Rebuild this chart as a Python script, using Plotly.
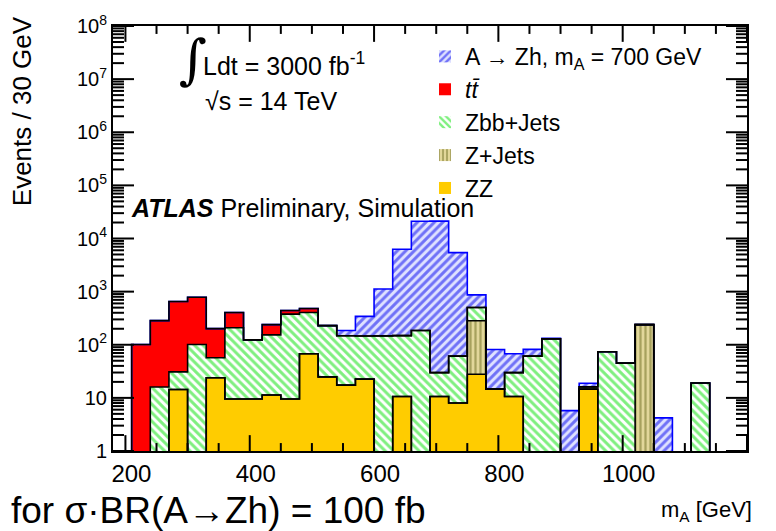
import numpy as np
import plotly.graph_objects as go

# ---------------- data ----------------
# 34 bins of 30 GeV from 180 to 1200 GeV (index 0 = 180-210 GeV)
bin_edges = [180, 210, 240, 270, 300, 330, 360, 390, 420, 450, 480, 510, 540, 570,
             600, 630, 660, 690, 720, 750, 780, 810, 840, 870, 900, 930, 960, 990,
             1020, 1050, 1080, 1110, 1140, 1170, 1200]

zz = [0, 0, 0, 14.4, 0, 24, 9.5, 9.5, 11.3, 9.5, 67.6, 24.8, 17.4, 22.5, 0, 10.6, 0,
      10.6, 8.0, 27.9, 14.6, 10.6, 0, 0, 0, 14.6, 0, 0, 0, 0, 0, 0, 0, 0]
zjets = [0, 0, 0, 0, 0, 0, 0, 0, 0, 0, 0, 0, 0, 0, 0, 0, 0, 0, 0, 256, 0, 0, 0, 0,
         0, 0, 0, 0, 239, 0, 0, 0, 0, 0]
zbb = [0, 0, 16, 16.4, 101, 33, 200, 114, 142, 368, 338, 204, 130, 124, 147, 138, 185,
       19.3, 53, 220, 0, 19.3, 61, 129, 0, 1.5, 74, 45, 0, 0, 0, 19, 0, 0]
ttbar = [0, 101, 268, 621, 684, 144, 196, 0, 86, 65, 76, 0, 0, 0, 0, 0, 0, 0, 0, 0, 0,
         0, 0, 0, 0, 0, 0, 0, 0, 0, 0, 0, 0, 0]
signal = [0, 0, 0, 0, 0, 0, 0, 0, 0, 0, 0, 0, 38, 195, 977, 6140, 21000, 21170, 5370,
          365, 67, 38, 21, 3, 5.75, 2.8, 0, 0, 0, 4.2, 0, 0, 0, 0]

series_names = ["ZZ", "Z+Jets", "Zbb+Jets", "<i>tt\u0304</i>",
                "A \u2192 Zh, m<sub>A</sub> = 700 GeV"]

x_tickvals = [200, 400, 600, 800, 1000, 1200]
x_minor_step = 50
y_tickvals = [1, 10, 1e2, 1e3, 1e4, 1e5, 1e6, 1e7, 1e8]
y_ticktext = ["1", "10", "10<sup>2</sup>", "10<sup>3</sup>", "10<sup>4</sup>",
              "10<sup>5</sup>", "10<sup>6</sup>", "10<sup>7</sup>", "10<sup>8</sup>"]

# ---------------- figure ----------------
W, H = 776, 531
ML, MR, MT, MB = 113, 29, 22, 80
FONT = "Liberation Sans, Arial, sans-serif"
X_RANGE = [180, 1200]
Y_RANGE = [0, 8]  # log10

edges = np.array(bin_edges, dtype=float)
centers = 0.5 * (edges[:-1] + edges[1:])
widths = np.diff(edges)

styles = [
    dict(color="#ffcc00", pattern=dict(shape="")),
    dict(color="#e2d79a", pattern=dict(shape="|", fgcolor="#6b6b20", bgcolor="#e2d79a",
                                       size=5, solidity=0.45)),
    dict(color="#ffffff", pattern=dict(shape="\\", fgcolor="#00e000", bgcolor="#ffffff",
                                       size=6, solidity=0.5)),
    dict(color="#ff0000", pattern=dict(shape="")),
    dict(color="#dfe2ff", pattern=dict(shape="/", fgcolor="#0000f0", bgcolor="#dfe2ff",
                                       size=6, solidity=0.5)),
]
components = [zz, zjets, zbb, ttbar, signal]
line_colors = ["black", "black", "black", "black", "#0000ff"]

fig = go.Figure()
for name, vals, st in zip(series_names, components, styles):
    fig.add_trace(go.Bar(
        x=centers, y=vals, width=widths, name=name,
        marker=dict(color=st["color"], pattern=st["pattern"], line=dict(width=0)),
        hoverinfo="skip",
    ))

# histogram outlines (cumulative stack levels), drawn top level first
cum = np.cumsum(np.array(components, dtype=float), axis=0)
for level, lc in reversed(list(zip(cum, line_colors))):
    yv = np.where(level > 0, level, 1e-3)
    yv = np.append(yv, yv[-1])
    fig.add_trace(go.Scatter(
        x=edges, y=yv, mode="lines", line=dict(shape="hv", color=lc, width=1.6),
        showlegend=False, hoverinfo="skip",
    ))

pw, ph = W - ML - MR, H - MT - MB

# ---- ROOT-style inward ticks on all four sides (line traces in axis units) ----
xspan = X_RANGE[1] - X_RANGE[0]
yspan = Y_RANGE[1] - Y_RANGE[0]
tx, ty = [], []


def xtick(v, length):
    d = length / ph * yspan
    for a, b in ((Y_RANGE[0], Y_RANGE[0] + d), (Y_RANGE[1] - d, Y_RANGE[1])):
        tx.extend([v, v, None])
        ty.extend([10 ** a, 10 ** b, None])


def ytick(v, length):
    d = length / pw * xspan
    for a, b in ((X_RANGE[0], X_RANGE[0] + d), (X_RANGE[1] - d, X_RANGE[1])):
        tx.extend([a, b, None])
        ty.extend([v, v, None])


for v in x_tickvals:
    xtick(v, 16)
for v in range(x_tickvals[0], X_RANGE[1], x_minor_step):
    if v not in x_tickvals:
        xtick(v, 8)
for v in y_tickvals:
    ytick(v, 21)
for dec in y_tickvals[:-1]:
    for m in range(2, 10):
        ytick(m * dec, 11)

fig.add_trace(go.Scatter(x=tx, y=ty, mode="lines", line=dict(color="black", width=2),
                         showlegend=False, hoverinfo="skip", connectgaps=False))


def px(x):
    return (x - ML) / pw


def py(y):
    return (H - MB - y) / ph


ann = []


def text(x, y, s, size, xanchor="left", yanchor="middle", angle=0, family=FONT):
    ann.append(dict(x=px(x), y=py(y), xref="paper", yref="paper", text=s,
                    showarrow=False, xanchor=xanchor, yanchor=yanchor,
                    textangle=angle, font=dict(size=size, color="black", family=family)))


text(193, 56, "\u222b", 54, xanchor="center", family="DejaVu Serif")
text(201, 60, "Ldt = 3000 fb<sup>-1</sup>", 25)
text(203, 98, "\u221as = 14 TeV", 25)
text(129, 206, "<b><i>ATLAS</i></b> Preliminary, Simulation", 25)
text(22, 108, "Events / 30 GeV", 26, xanchor="center", angle=-90)
text(9, 511, "for \u03c3\u00b7BR(A\u2192Zh) = 100 fb", 37)
text(754, 512, "m<sub>A</sub> [GeV]", 22, xanchor="right")

fig.update_layout(
    width=W, height=H,
    margin=dict(l=ML, r=MR, t=MT, b=MB),
    paper_bgcolor="white", plot_bgcolor="white",
    barmode="stack", bargap=0,
    font=dict(family=FONT, color="black"),
    annotations=ann,
    legend=dict(x=px(425), y=py(31), xanchor="left", yanchor="top",
                traceorder="reversed", bgcolor="rgba(0,0,0,0)",
                font=dict(size=23, family=FONT), tracegroupgap=0),
)
fig.update_xaxes(
    range=X_RANGE, tickvals=x_tickvals, ticks="", showline=True, linecolor="black",
    linewidth=2, mirror=True, showgrid=False, zeroline=False,
    tickfont=dict(size=24, family=FONT), ticklabelshift=6,
)
fig.update_yaxes(
    type="log", range=Y_RANGE, tickvals=y_tickvals, ticktext=y_ticktext, ticks="",
    showline=True, linecolor="black", linewidth=2, mirror=True, showgrid=False,
    zeroline=False, tickfont=dict(size=20, family=FONT),
)

fig.write_html("out.html")
